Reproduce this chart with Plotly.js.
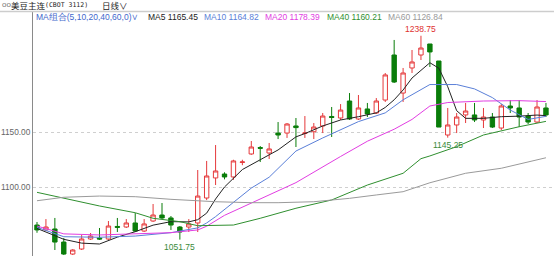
<!DOCTYPE html>
<html>
<head>
<meta charset="utf-8">
<script src="https://cdn.plot.ly/plotly-3.0.1.min.js"></script>
<style>
html,body{margin:0;padding:0;background:#fff;}
#chart{width:554px;height:256px;}
</style>
</head>
<body>
<div id="chart"></div>
<script>
// ---- Data ----
const openP = [1065.1,1060.6,1061.5,1049.5,1038.5,1043.1,1052.3,1053.2,1052.3,1063.8,
  1063.3,1067.0,1059.6,1068.8,1074.3,1071.6,1063.3,1063.3,1067.0,1089.9,
  1108.3,1111.9,1109.2,1122.5,1130.3,1136.2,1131.2,1149.5,1149.5,1156.0,
  1149.1,1150.7,1156.0,1164.7,1163.3,1178.9,1162.4,1171.6,1167.9,1179.8,
  1221.1,1186.2,1209.2,1221.1,1231.2,1215.6,1147.7,1156.9,1166.1,1166.1,
  1161.5,1164.2,1154.1,1174.3,1172.5,1165.1,1159.6,1172.5];
const highP = [1067.9,1070.6,1071.6,1053.2,1043.0,1055.9,1057.8,1062.4,1068.8,1071.6,
  1070.6,1076.1,1070.6,1084.4,1085.3,1073.4,1064.2,1070.6,1115.6,1123.9,
  1138.5,1113.5,1125.0,1125.0,1142.2,1137.6,1140.4,1159.6,1158.7,1163.3,
  1165.1,1158.7,1167.9,1173.4,1176.1,1186.2,1184.4,1177.1,1181.6,1204.6,
  1234.9,1209.2,1225.7,1238.75,1231.2,1215.6,1172.5,1167.9,1177.1,1177.1,
  1172.5,1167.9,1176.1,1179.8,1179.8,1167.9,1179.8,1177.1];
const lowP = [1058.0,1059.6,1042.2,1037.6,1037.6,1042.2,1051.4,1051.4,1051.4,1058.7,
  1062.4,1058.7,1058.7,1068.0,1070.6,1060.6,1051.75,1058.7,1058.7,1088.0,
  1101.8,1107.0,1106.5,1120.0,1129.5,1122.9,1125.7,1144.0,1145.0,1136.7,
  1145.0,1144.0,1149.5,1145.9,1161.5,1161.5,1161.5,1164.2,1167.0,1178.0,
  1195.4,1178.0,1204.6,1216.5,1210.1,1155.0,1145.25,1149.5,1158.7,1159.6,
  1154.1,1154.1,1152.3,1167.9,1155.0,1157.8,1158.7,1164.2];
const closeP = [1060.6,1063.3,1049.5,1038.5,1042.2,1052.3,1055.0,1052.3,1064.2,1063.0,
  1067.0,1059.6,1066.1,1074.3,1071.6,1065.1,1058.7,1066.1,1091.7,1110.1,
  1114.7,1109.2,1123.9,1123.0,1136.7,1135.5,1134.9,1147.7,1157.8,1154.5,
  1149.5,1155.0,1165.1,1163.8,1170.6,1162.4,1172.5,1167.0,1178.9,1202.8,
  1196.3,1204.6,1214.7,1227.5,1223.9,1155.0,1156.9,1164.2,1169.7,1161.5,
  1164.2,1155.0,1174.3,1172.5,1164.2,1159.6,1173.4,1166.1];

// moving-average lines, sampled at bar positions
const ma5X = [0,3,5,7,9,11,13,15,17,18,19,20,21,23,25,27,29,30,32,34,36,38,39,40,41,42,43,44,45,46,47,48,50,52,54,56,57];
const ma5Y = [1062,1052,1048.5,1047.7,1054,1059,1065,1068.2,1068,1070,1076,1089,1100,1116,1125,1134,1146,1149,1156,1161.5,1164.5,1168,1173,1180,1189,1200,1207,1214,1209,1192,1170,1163,1163,1164.5,1165,1166,1165.45];
const ma10X = [0,3,7,11,15,18,19,20,24,26,29,32,36,39,41,44,47,49,51,53,55,57];
const ma10Y = [1063,1054.4,1053.9,1055,1058.1,1062.5,1067,1072.8,1099,1109,1133,1145,1160,1168,1180,1194,1194,1190,1182,1170.6,1162,1164.82];
const ma20X = [0,3,7,11,15,18,19,21,24,29,34,37,40,42,44,46,50,54,57];
const ma20Y = [1064.2,1057,1056,1056.9,1058.1,1060.6,1064,1074,1085,1104,1128,1142,1153,1162,1174.3,1177.5,1178.9,1179.2,1178.39];
const ma40X = [0,3,7,11,13,16,18,22,25,29,33,37,41,43,44,47,50,54,57];
const ma40Y = [1095.1,1089.6,1082.6,1076.4,1071.3,1068.2,1064.5,1065.1,1071.3,1080.5,1088.1,1101.8,1112.6,1126,1128.5,1137,1147.7,1155.3,1160.21];
const ma60X = [0,3,7,11,15,18,20,24,27,31,35,38,41,44,48,52,57];
const ma60Y = [1087.4,1090.6,1091.7,1091.1,1088.7,1087.4,1086.5,1085.6,1085.6,1086.5,1089.6,1092.7,1095.7,1103.9,1112.6,1117.2,1126.84];

const yTicks = [1100, 1150];
const yTickText = ['1100.00', '1150.00'];
const maNames = ['MA5','MA10','MA20','MA40','MA60'];
const maLast = ['1165.45','1164.82','1178.39','1160.21','1126.84'];
const maColors = ['#222222','#5a7fd8','#e23de2','#2f8f2f','#9a9a9a'];

const bars = openP.map((_, i) => i);

// ---- pixel helpers for the decorations ----
const L = 33, T = 12, PW = 521, PH = 244;
const px = v => (v - L) / PW;
const py = v => (256 - v) / PH;

const upC = '#e5393b', dnC = '#0a7d0a';

const traces = [{
  type: 'candlestick', x: bars, open: openP, high: highP, low: lowP, close: closeP,
  increasing: {line: {color: upC, width: 1}, fillcolor: '#ffffff'},
  decreasing: {line: {color: dnC, width: 1}, fillcolor: dnC},
  whiskerwidth: 0, hoverinfo: 'skip', showlegend: false
}];
const maXs = [ma5X, ma10X, ma20X, ma40X, ma60X];
const maYs = [ma5Y, ma10Y, ma20Y, ma40Y, ma60Y];
for (let k = 0; k < 5; k++) {
  traces.push({type: 'scatter', mode: 'lines', x: maXs[k], y: maYs[k],
    line: {color: maColors[k], width: 1}, hoverinfo: 'skip', showlegend: false});
}

const nf = 'Tahoma, "Liberation Sans", Arial, sans-serif';
const ann = [];
function txt(x, y, text, color, size, family, anchor) {
  ann.push({xref: 'paper', yref: 'paper', x: px(x), y: py(y), text: text, showarrow: false,
    xanchor: anchor || 'left', yanchor: 'middle', font: {color: color, size: size, family: family || nf}, borderpad: 0});
}
// header
txt(1, 5, 'oo', '#777', 8);
txt(10, 5, '美豆主连', '#222', 8.5, '"Noto Sans CJK SC", sans-serif');
txt(44, 5, '(CBOT 3112)', '#222', 6.5, '"DejaVu Sans Mono", monospace');
txt(101, 5, '日线∨', '#222', 8.5, '"Noto Sans CJK SC", sans-serif');
// MA legend row
txt(35, 17, 'MA组合(5,10,20,40,60,0)∨', '#3f68cc', 8.5);
const legX = [147, 203, 264, 326, 387];
for (let k = 0; k < 5; k++) txt(legX[k], 17, maNames[k] + ' ' + maLast[k], maColors[k], 8.5);

// high / low markers tied to data
ann.push({xref: 'x', yref: 'y', x: 43, y: highP[43], text: '1238.75', showarrow: false,
  xanchor: 'center', yanchor: 'bottom', yshift: 1, font: {color: '#e03030', size: 8.5, family: nf}, borderpad: 0});
ann.push({xref: 'x', yref: 'y', x: 46, y: lowP[46], text: '1145.25', showarrow: false,
  xanchor: 'center', yanchor: 'top', yshift: -1, font: {color: '#3a8a3a', size: 8.5, family: nf}, borderpad: 0});
ann.push({xref: 'x', yref: 'y', x: 16, y: lowP[16], text: '1051.75', showarrow: false,
  xanchor: 'center', yanchor: 'top', yshift: -1, font: {color: '#3a8a3a', size: 8.5, family: nf}, borderpad: 0});

const layout = {
  width: 554, height: 256,
  margin: {l: L, r: 0, t: T, b: 0, pad: 0},
  paper_bgcolor: '#fff', plot_bgcolor: '#fff',
  showlegend: false,
  xaxis: {range: [-0.448, 57.9], visible: false, rangeslider: {visible: false}, fixedrange: true},
  yaxis: {range: [1036.7, 1260.55], tickvals: yTicks, ticktext: yTickText,
    showgrid: true, gridcolor: '#cfcfcf', griddash: 'dot', gridwidth: 1,
    showline: true, linecolor: '#8a8a8a', linewidth: 1, ticks: '', zeroline: false,
    tickfont: {size: 8.3, color: '#666', family: nf}, ticklabelstandoff: 0, fixedrange: true},
  boxgap: 0.3,
  annotations: ann,
  shapes: [{type: 'line', xref: 'paper', yref: 'paper', x0: px(0), x1: 1, y0: py(11.5), y1: py(11.5),
    line: {color: '#cdcdcd', width: 1.5}}]
};
Plotly.newPlot('chart', traces, layout, {staticPlot: true, displayModeBar: false});
</script>
</body>
</html>
